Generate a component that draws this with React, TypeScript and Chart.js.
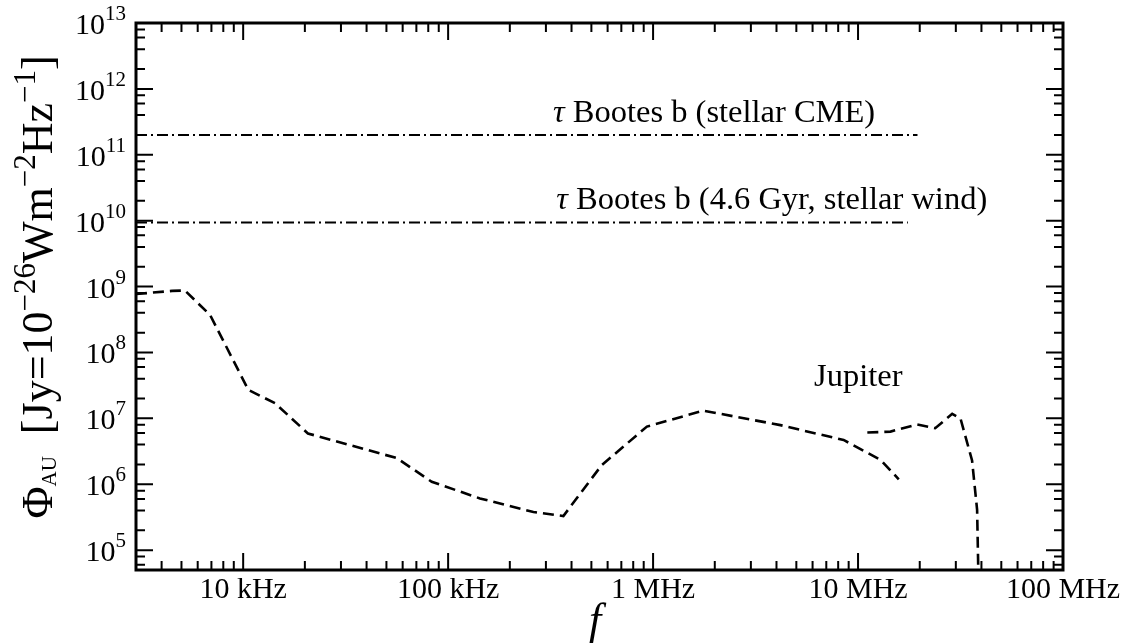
import React, { useEffect, useRef } from "react";
import { Chart, registerables } from "chart.js";

Chart.register(...registerables);

// ---- data ----
const JUP_FREQ_LOW = [3000, 4500, 5200, 6900, 10600, 14300, 20700, 56100, 83200, 143000, 260600, 365000, 562000, 933000, 1760000, 4180000, 8500000, 12900000, 15800000];
const JUP_FLUX_LOW = [7.7e8, 8.6e8, 8.7e8, 3.7e8, 2.7e7, 1.7e7, 5.9e6, 2.5e6, 1.09e6, 6.1e5, 3.8e5, 3.3e5, 1.96e6, 7.5e6, 1.31e7, 7.9e6, 4.7e6, 2.34e6, 1.19e6];
const JUP_FREQ_HIGH = [1.11e7, 1.44e7, 1.94e7, 2.38e7, 2.88e7, 3.16e7, 3.6e7, 3.81e7, 3.9e7];
const JUP_FLUX_HIGH = [6.1e6, 6.3e6, 8.1e6, 7.1e6, 1.17e7, 1.0e7, 2.3e6, 4.1e5, 1e4];
const CME_FREQ = [3000, 1.95e7];
const CME_FLUX = [2e11, 2e11];
const WIND_FREQ = [3000, 1.75e7];
const WIND_FLUX = [9.4e9, 9.4e9];

const X_MIN = 3000;
const X_MAX = 1e8;
const Y_MIN = 5e4;
const Y_MAX = 1e13;

const X_TICK_VALUES = [1e4, 1e5, 1e6, 1e7, 1e8];
const X_TICK_LABELS = ["10 kHz", "100 kHz", "1 MHz", "10 MHz", "100 MHz"];
const X_MINOR_MULT = [2, 3, 4, 5, 6, 7, 8, 9];
const Y_TICK_EXPONENTS = [5, 6, 7, 8, 9, 10, 11, 12, 13];
const Y_MINOR_MULT = [2, 4, 6, 8];

const ANNOT_TEXTS = ["Bootes b (stellar CME)", "Bootes b (4.6 Gyr, stellar wind)"];
const ANNOT_X = [3.25e5, 3.37e5];
const ANNOT_Y = [3.2e11, 1.5e10];
const JUPITER_LABEL = "Jupiter";
const JUPITER_X = 6.1e6;
const JUPITER_Y = 3.1e7;

const SERIF = "'Liberation Serif', 'Times New Roman', 'DejaVu Serif', serif";

const TICK_SIZE = 30;
const ANNOT_SIZE = 32.5;

function pts(xs: number[], ys: number[]) {
  return xs.map((x, i) => ({ x, y: ys[i] }));
}

const decorPlugin = {
  id: "decor",
  afterDatasetsDraw(chart: any) {
    const { ctx, chartArea, scales } = chart;
    const { left, right, top, bottom } = chartArea;
    const xs = scales.x;
    const ys = scales.y;
    ctx.save();
    ctx.strokeStyle = "#000";
    ctx.fillStyle = "#000";
    ctx.lineWidth = 2;
    const MAJ = 17;
    const MIN = 9;
    ctx.beginPath();
    for (let e = 3; e <= 8; e++) {
      const dec = Math.pow(10, e);
      if (dec >= X_MIN && dec <= X_MAX) {
        const p = xs.getPixelForValue(dec);
        ctx.moveTo(p, bottom); ctx.lineTo(p, bottom - MAJ);
        ctx.moveTo(p, top); ctx.lineTo(p, top + MAJ);
      }
      for (const m of X_MINOR_MULT) {
        const v = m * dec;
        if (v > X_MIN && v < X_MAX) {
          const p = xs.getPixelForValue(v);
          ctx.moveTo(p, bottom); ctx.lineTo(p, bottom - MIN);
          ctx.moveTo(p, top); ctx.lineTo(p, top + MIN);
        }
      }
    }
    for (let e = 4; e <= 13; e++) {
      const dec = Math.pow(10, e);
      if (dec >= Y_MIN && dec <= Y_MAX) {
        const p = ys.getPixelForValue(dec);
        ctx.moveTo(left, p); ctx.lineTo(left + MAJ, p);
        ctx.moveTo(right, p); ctx.lineTo(right - MAJ, p);
      }
      for (const m of Y_MINOR_MULT) {
        const v = m * dec;
        if (v > Y_MIN && v < Y_MAX) {
          const p = ys.getPixelForValue(v);
          ctx.moveTo(left, p); ctx.lineTo(left + MIN, p);
          ctx.moveTo(right, p); ctx.lineTo(right - MIN, p);
        }
      }
    }
    ctx.stroke();
    ctx.lineWidth = 3;
    ctx.strokeRect(left, top, right - left, bottom - top);

    // y tick labels: 10 with superscript exponent
    ctx.textBaseline = "alphabetic";
    ctx.textAlign = "left";
    for (const e of Y_TICK_EXPONENTS) {
      const p = ys.getPixelForValue(Math.pow(10, e));
      const expStr = String(e);
      ctx.font = `21px ${SERIF}`;
      const we = ctx.measureText(expStr).width;
      ctx.font = `${TICK_SIZE}px ${SERIF}`;
      const wb = ctx.measureText("10").width;
      const xr = left - 10;
      ctx.fillText("10", xr - we - wb, p + 11);
      ctx.font = `21px ${SERIF}`;
      ctx.fillText(expStr, xr - we, p - 3);
    }

    // annotations
    ANNOT_TEXTS.forEach((t, i) => {
      const px = xs.getPixelForValue(ANNOT_X[i]);
      const py = ys.getPixelForValue(ANNOT_Y[i]);
      ctx.font = `italic ${ANNOT_SIZE}px ${SERIF}`;
      ctx.fillText("τ", px, py);
      const w = ctx.measureText("τ").width;
      ctx.font = `${ANNOT_SIZE}px ${SERIF}`;
      ctx.fillText(" " + t, px + w, py);
    });
    ctx.font = `${ANNOT_SIZE}px ${SERIF}`;
    ctx.fillText(JUPITER_LABEL, xs.getPixelForValue(JUPITER_X), ys.getPixelForValue(JUPITER_Y));

    // y title with sub/superscripts
    const BIG = 44;
    const SMALL = 21;
    const SUPS = 31;
    const segs = [
      { t: "Φ", s: BIG, dy: 0 },
      { t: "AU", s: SMALL, dy: 4 },
      { t: "  [Jy=10", s: BIG, dy: 0 },
      { t: "−26", s: SUPS, dy: -17 },
      { t: "Wm", s: BIG, dy: 0 },
      { t: "−2", s: SUPS, dy: -17 },
      { t: "Hz", s: BIG, dy: 0 },
      { t: "−1", s: SUPS, dy: -17 },
      { t: "]", s: BIG, dy: 0 },
    ];
    let total = 0;
    const widths = segs.map((sg) => {
      ctx.font = `${sg.s}px ${SERIF}`;
      const w = ctx.measureText(sg.t).width;
      total += w;
      return w;
    });
    ctx.save();
    ctx.translate(52, 287);
    ctx.rotate(-Math.PI / 2);
    let cx = -total / 2;
    segs.forEach((sg, i) => {
      ctx.font = `${sg.s}px ${SERIF}`;
      ctx.fillText(sg.t, cx, sg.dy);
      cx += widths[i];
    });
    ctx.restore();

    // x title
    ctx.font = `italic 44px ${SERIF}`;
    ctx.textAlign = "center";
    ctx.fillText("f", 595, 634);
    ctx.restore();
  },
};

export default function App() {
  const ref = useRef<HTMLCanvasElement | null>(null);
  useEffect(() => {
    if (!ref.current) return;
    const dashed = { borderColor: "#000", borderWidth: 2.6, borderDash: [11, 6], pointRadius: 0, fill: false, tension: 0 };
    const dashDot = { borderColor: "#000", borderWidth: 2, borderDash: [11, 4, 2, 4], pointRadius: 0, fill: false };
    const chart = new Chart(ref.current, {
      type: "line",
      data: {
        datasets: [
          { label: "Jupiter", data: pts(JUP_FREQ_LOW, JUP_FLUX_LOW), ...dashed },
          { label: "Jupiter (high)", data: pts(JUP_FREQ_HIGH, JUP_FLUX_HIGH), ...dashed },
          { label: "τ Bootes b (stellar CME)", data: pts(CME_FREQ, CME_FLUX), ...dashDot },
          { label: "τ Bootes b (4.6 Gyr, stellar wind)", data: pts(WIND_FREQ, WIND_FLUX), ...dashDot },
        ],
      },
      options: {
        animation: false,
        responsive: false,
        devicePixelRatio: 1,
        layout: { padding: { top: 23, right: 65, left: 0, bottom: 0 } },
        plugins: { legend: { display: false }, tooltip: { enabled: false } },
        scales: {
          x: {
            type: "logarithmic",
            min: X_MIN,
            max: X_MAX,
            grid: { display: false },
            border: { display: false },
            afterBuildTicks: (axis: any) => {
              axis.ticks = X_TICK_VALUES.map((v) => ({ value: v }));
            },
            afterFit: (s: any) => {
              s.height = 73;
            },
            ticks: {
              autoSkip: false,
              maxRotation: 0,
              minRotation: 0,
              padding: -6,
              color: "#000",
              font: { family: SERIF, size: TICK_SIZE },
              callback: (v: any) => {
                const i = X_TICK_VALUES.indexOf(Number(v));
                return i >= 0 ? X_TICK_LABELS[i] : "";
              },
            },
          },
          y: {
            type: "logarithmic",
            min: Y_MIN,
            max: Y_MAX,
            grid: { display: false },
            border: { display: false },
            afterBuildTicks: (axis: any) => {
              axis.ticks = Y_TICK_EXPONENTS.map((e) => ({ value: Math.pow(10, e) }));
            },
            afterFit: (s: any) => {
              s.width = 136;
            },
            ticks: { display: false },
          },
        },
      },
      plugins: [decorPlugin],
    } as any);
    return () => chart.destroy();
  }, []);
  return (
    <div style={{ position: "absolute", left: 0, top: 0, width: 1128, height: 643, background: "#fff" }}>
      <canvas ref={ref} width={1128} height={643} style={{ display: "block" }} />
    </div>
  );
}
